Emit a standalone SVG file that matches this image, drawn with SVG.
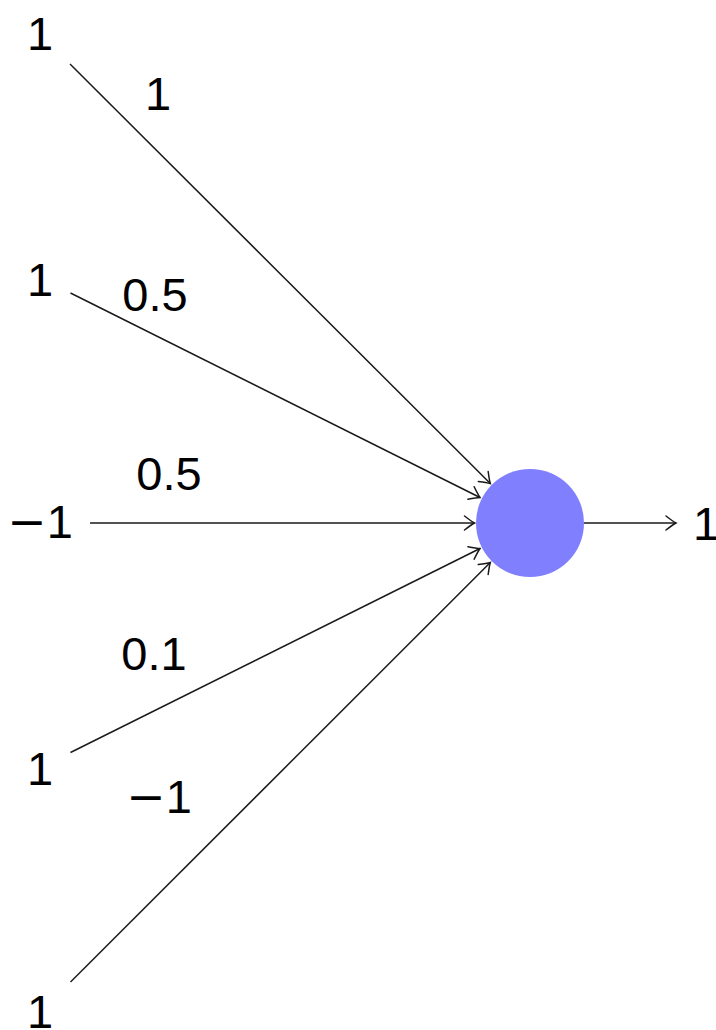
<svg xmlns="http://www.w3.org/2000/svg" width="716" height="1030" viewBox="0 0 716 1030">
<style>
text{font-family:"Liberation Sans","DejaVu Sans",sans-serif;font-size:47px;fill:#000;text-anchor:middle}
.m{font-family:"DejaVu Sans",sans-serif}
.edge{stroke:#1a1a1a;stroke-width:1.5;fill:none;marker-end:url(#to)}
</style>
<defs>
<marker id="to" markerUnits="userSpaceOnUse" orient="auto" refX="0" refY="0" markerWidth="20" markerHeight="20" overflow="visible">
<path d="M -10 -7 Q -3 -1.6 0 0 Q -3 1.6 -10 7" fill="none" stroke="#1a1a1a" stroke-width="1.5" stroke-linecap="round"/>
</marker>
</defs>
<rect width="716" height="1030" fill="#fff"/>
<g id="connectors">
<line class="edge" x1="70" y1="64" x2="490.3" y2="483.5"/>
<line class="edge" x1="70.5" y1="293" x2="480" y2="497.5"/>
<line class="edge" x1="90" y1="523" x2="474.5" y2="523"/>
<line class="edge" x1="70.5" y1="752.5" x2="480" y2="548.5"/>
<line class="edge" x1="70.5" y1="982" x2="490.3" y2="562.5"/>
<line class="edge" x1="584" y1="523" x2="676" y2="523"/>
</g>
<g id="neuron"><circle cx="530" cy="523" r="54" fill="#8080ff"/></g>
<g id="in1"><text x="40" y="50">1</text></g>
<g id="in2"><text x="40" y="296">1</text></g>
<g id="in3"><text x="40" y="538"><tspan class="m">−</tspan>1</text></g>
<g id="in4"><text x="40" y="785">1</text></g>
<g id="in5"><text x="40" y="1028">1</text></g>
<g id="out"><text x="706" y="540">1</text></g>
<g id="weights">
<text x="158" y="110">1</text>
<text x="155" y="311">0.5</text>
<text x="169" y="490">0.5</text>
<text x="154" y="670">0.1</text>
<text x="159" y="813"><tspan class="m">−</tspan>1</text>
</g>
</svg>
